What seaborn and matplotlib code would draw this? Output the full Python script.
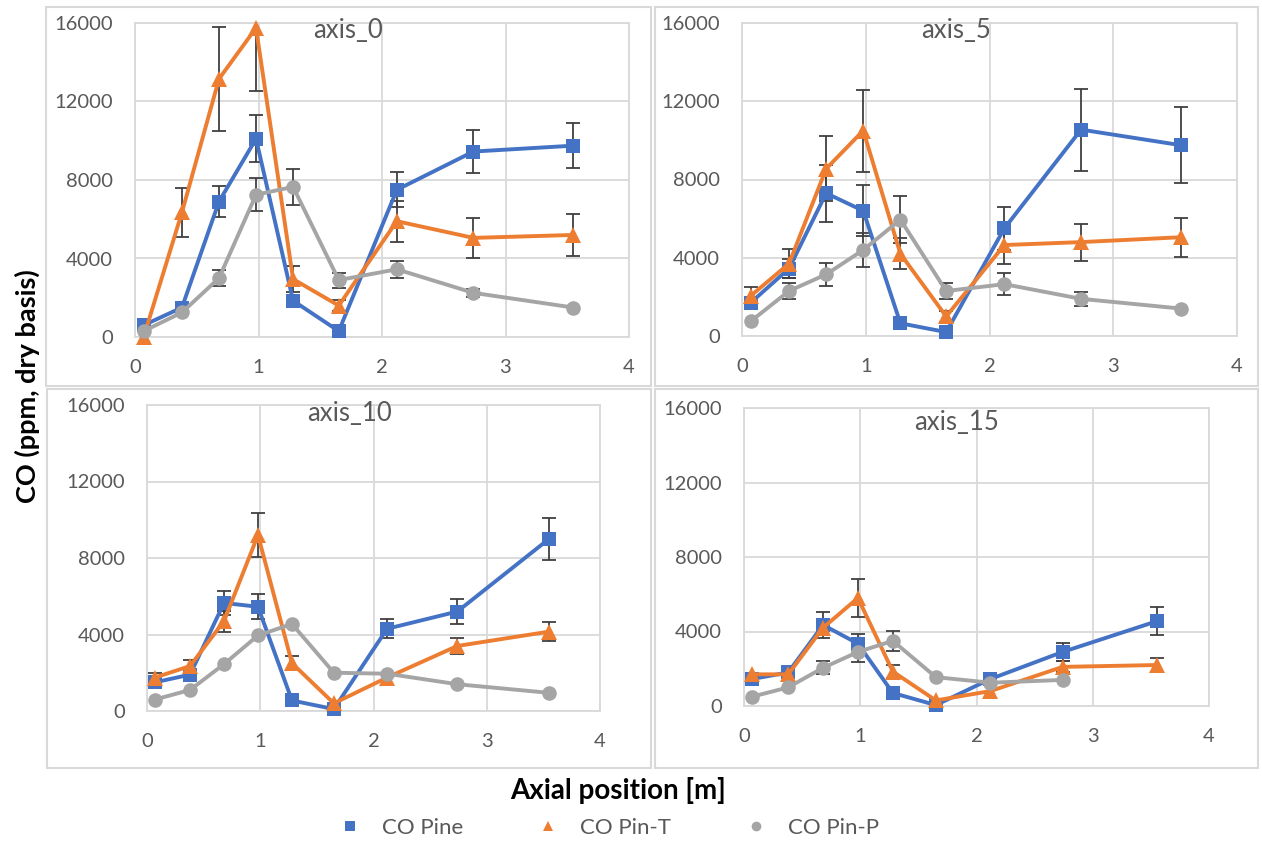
import numpy as np
import pandas as pd
import matplotlib
matplotlib.use("Agg")
import matplotlib.pyplot as plt
import seaborn as sns
from matplotlib.lines import Line2D
from matplotlib.patches import Rectangle

W, H = 1262, 841

x_pos = [0.07, 0.38, 0.68, 0.98, 1.28, 1.65, 2.12, 2.74, 3.55]
panels = ["axis_0", "axis_5", "axis_10", "axis_15"]
series = ["CO Pine", "CO Pin-T", "CO Pin-P"]
x_ticks = [0, 1, 2, 3, 4]
y_ticks = [0, 4000, 8000, 12000, 16000]

pine = {
    "axis_0": [600, 1500, 6900, 10100, 1850, 300, 7500, 9450, 9750],
    "axis_5": [1700, 3450, 7300, 6400, 650, 200, 5500, 10550, 9750],
    "axis_10": [1500, 1900, 5650, 5450, 550, 100, 4300, 5200, 9000],
    "axis_15": [1450, 1800, 4350, 3350, 700, 50, 1450, 2900, 4550],
}
pine_err = {
    "axis_0": [0, 0, 800, 1200, 0, 0, 900, 1100, 1150],
    "axis_5": [300, 500, 1450, 1300, 0, 0, 1100, 2100, 1950],
    "axis_10": [250, 300, 650, 650, 0, 0, 500, 650, 1100],
    "axis_15": [300, 0, 700, 500, 0, 0, 0, 500, 750],
}
pint = {
    "axis_0": [0, 6350, 13150, 15750, 2950, 1600, 5900, 5050, 5200],
    "axis_5": [2050, 3700, 8550, 10500, 4200, 1000, 4650, 4800, 5050],
    "axis_10": [1750, 2350, 4700, 9200, 2500, 400, 1750, 3400, 4150],
    "axis_15": [1700, 1700, 4200, 5800, 1850, 300, 800, 2100, 2200],
}
pint_err = {
    "axis_0": [0, 1250, 2650, 3200, 650, 300, 1050, 1000, 1050],
    "axis_5": [450, 750, 1650, 2100, 800, 300, 950, 950, 1000],
    "axis_10": [250, 300, 550, 1150, 350, 0, 0, 400, 500],
    "axis_15": [0, 0, 0, 1000, 350, 0, 0, 300, 400],
}
pinp = {
    "axis_0": [300, 1250, 3000, 7250, 7650, 2900, 3450, 2250, 1500],
    "axis_5": [750, 2300, 3150, 4400, 5950, 2300, 2650, 1900, 1400],
    "axis_10": [600, 1100, 2450, 3950, 4550, 2000, 1950, 1400, 950],
    "axis_15": [500, 1000, 2050, 2900, 3500, 1550, 1250, 1400, np.nan],
}
pinp_err = {
    "axis_0": [0, 0, 400, 850, 900, 380, 420, 200, 0],
    "axis_5": [0, 400, 600, 850, 1200, 400, 550, 350, 0],
    "axis_10": [0, 0, 0, 0, 0, 0, 0, 0, 0],
    "axis_15": [0, 0, 350, 550, 550, 0, 0, 0, 0],
}

colors = {"CO Pine": "#4472C4", "CO Pin-T": "#ED7D31", "CO Pin-P": "#A5A5A5"}
markers = {"CO Pine": "s", "CO Pin-T": "^", "CO Pin-P": "o"}
msize = {"CO Pine": 10.5, "CO Pin-T": 11, "CO Pin-P": 10.5}

# pixel boxes: plot area (l, t, r, b), chart frame, title baseline
plot_px = {
    "axis_0": (135, 23, 629, 337),
    "axis_5": (742, 23, 1237, 336),
    "axis_10": (147, 405, 600, 711),
    "axis_15": (744, 408, 1209, 706),
}
frame_px = {
    "axis_0": (46, 7, 651, 386),
    "axis_5": (655, 7, 1258, 386),
    "axis_10": (47, 389, 651, 768),
    "axis_15": (655, 389, 1258, 768),
}
title_y = {"axis_0": 38, "axis_5": 38, "axis_10": 421, "axis_15": 430}

sns.set_theme(style="white")
plt.rcParams["font.family"] = ["Lato", "DejaVu Sans"]

fig = plt.figure(figsize=(W / 100, H / 100), dpi=100)


def fig_rect(l, t, r, b):
    return [l / W, 1 - b / H, (r - l) / W, (b - t) / H]


grey_txt = "#595959"

for p in panels:
    ax = fig.add_axes(fig_rect(*plot_px[p]))
    fl, ft, fr_, fb = frame_px[p]
    fig.add_artist(Rectangle((fl / W, 1 - fb / H), (fr_ - fl) / W, (fb - ft) / H,
                             transform=fig.transFigure, fill=False,
                             ec="#D9D9D9", lw=1.5))

    vals = {"CO Pine": pine[p], "CO Pin-T": pint[p], "CO Pin-P": pinp[p]}
    errs = {"CO Pine": pine_err[p], "CO Pin-T": pint_err[p], "CO Pin-P": pinp_err[p]}

    df = pd.DataFrame({
        "x": np.tile(x_pos, 3),
        "y": np.concatenate([vals[s] for s in series]),
        "err": np.concatenate([errs[s] for s in series]),
        "series": np.repeat(series, len(x_pos)),
    }).dropna()

    for s in series:
        d = df[(df["series"] == s) & (df["err"] > 0)]
        ax.errorbar(d["x"], d["y"], yerr=d["err"], fmt="none", ecolor="#404040",
                    elinewidth=1.3, capsize=5, capthick=1.3, zorder=2)

    for s in series:
        d = df[df["series"] == s]
        sns.lineplot(data=d, x="x", y="y", color=colors[s], marker=markers[s],
                     markersize=msize[s], markeredgewidth=0, linewidth=2.8,
                     ax=ax, legend=False, errorbar=None, zorder=3, clip_on=False)

    ax.set_xlim(0, 4)
    ax.set_ylim(0, 16000)
    ax.set_xticks(x_ticks)
    ax.set_yticks(y_ticks)
    ax.set_yticklabels([str(v) for v in y_ticks])
    ax.grid(True, color="#D9D9D9", lw=1.3)
    ax.set_axisbelow(True)
    for sp in ax.spines.values():
        sp.set_color("#D9D9D9")
        sp.set_linewidth(1.3)
    ax.tick_params(axis="both", length=0, pad=16, labelsize=14.5, labelcolor=grey_txt)
    ax.set_xlabel("")
    ax.set_ylabel("")
    ax.set_facecolor("white")

    fig.text(((fl + fr_) / 2) / W, 1 - title_y[p] / H, p, ha="center", va="baseline",
             fontsize=18.5, color=grey_txt)

fig.text(27 / W, 1 - 386 / H, "CO (ppm, dry basis)", rotation=90, ha="center",
         va="center", fontsize=19.5, fontweight="bold", color="black")
fig.text(618 / W, 1 - 790 / H, "Axial position [m]", ha="center", va="center",
         fontsize=20, fontweight="bold", color="black")

handles = [Line2D([], [], linestyle="none", marker=markers[s], color=colors[s],
                  markersize=7, markeredgewidth=0) for s in series]
leg = fig.legend(handles, series, loc="center", bbox_to_anchor=(609 / W, 1 - 828 / H),
                 ncol=3, frameon=False, fontsize=16, handlelength=1.0,
                 handletextpad=0.95, columnspacing=3.3)
for t in leg.get_texts():
    t.set_color(grey_txt)

fig.savefig("out.png", dpi=100)
